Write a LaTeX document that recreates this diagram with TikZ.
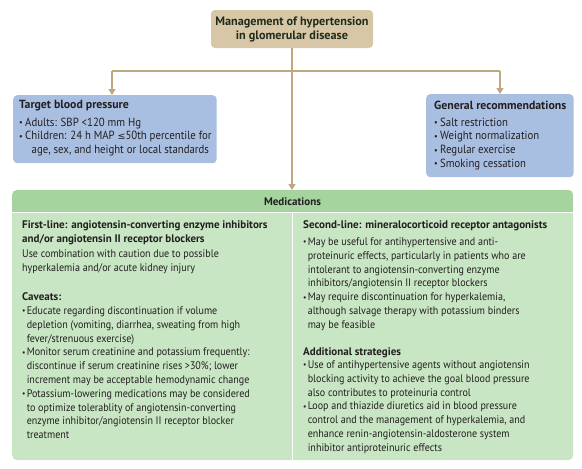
\documentclass[tikz,border=0pt]{standalone}
\usepackage{fontspec}
\usepackage{graphicx}
\setmainfont{PT Sans}[UprightFeatures={FakeStretch=0.915},BoldFeatures={FakeStretch=1.0}]
\newfontfamily\symfont{DejaVu Sans}
\usetikzlibrary{arrows.meta}
\definecolor{tanfill}{HTML}{D8C7A6}
\definecolor{tanline}{HTML}{BFA77F}
\definecolor{bluefill}{HTML}{A9BFE2}
\definecolor{hdrgreen}{HTML}{A5D49E}
\definecolor{bodygreen}{HTML}{C8E6C3}
\definecolor{textc}{HTML}{231F20}
\definecolor{titlec}{HTML}{1F2B1C}
\newcommand\bu{\makebox[4.6pt][l]{\raisebox{0.1ex}{\scalebox{0.75}{•}}}}
\newcommand\ct{\hspace*{4.6pt}}
\newcommand\bub{\makebox[6pt][l]{\raisebox{0.1ex}{\scalebox{0.75}{•}}}}
\newcommand\leqsym{{\symfont\scalebox{0.8}{≤}}}
\begin{document}
\begin{tikzpicture}[x=1pt,y=-1pt,
  txt/.style={font=\fontsize{11}{13.8}\selectfont, align=left, inner sep=0pt, anchor=north west, text=textc},
  btxt/.style={txt, font=\fontsize{11}{13.8}\selectfont\bfseries},
  boxtxt/.style={txt, font=\fontsize{11.8}{13.8}\selectfont},
  boxbtxt/.style={txt, font=\fontsize{11.8}{13.8}\selectfont\bfseries},
  conn/.style={draw=tanline, line width=1.4pt},
  arr/.style={conn, -{Triangle[width=7pt,length=6pt]}},
  boxbase/.style={inner sep=0pt, rounded corners=4pt, anchor=north west}
]
\useasboundingbox (0,0) rectangle (582,469);

% top box
\node[boxbase, fill=tanfill, minimum width=162pt, minimum height=38pt, anchor=center] (top) at (292,29) {};
\node[txt, anchor=center, align=center, text=titlec, font=\fontsize{12.2}{14}\selectfont\bfseries] (toptxt) at (top.center) {Management of hypertension\\in glomerular disease};

% target blood pressure
\node[boxbase, fill=bluefill, minimum width=203.5pt, minimum height=68pt] (tbp) at (13,95) {};
\node[boxbtxt] (tbpt) at (19,100.5) {Target blood pressure};
\node[boxtxt] (tbpb) at (19,117.5) {\bub Adults: SBP <120 mm Hg\\\bub Children: 24 h MAP \leqsym50th percentile for\\\hspace*{12.5pt}age, sex, and height or local standards};

% general recommendations
\node[boxbase, fill=bluefill, minimum width=147.5pt, minimum height=83pt] (gen) at (426,94) {};
\node[boxbtxt] (gent) at (434,100.5) {General recommendations};
\node[boxtxt] (genb) at (434,117.5) {\bub Salt restriction\\\bub Weight normalization\\\bub Regular exercise\\\bub Smoking cessation};

% connectors
\coordinate (brl) at (112,71);
\coordinate (brr) at (500,71);
\draw[conn] (brl) -- (brr);
\draw[arr] (brl) -- (brl |- tbp.north);
\draw[arr] (brr) -- (brr |- gen.north);

% medications
\node[boxbase, fill=bodygreen, minimum width=561pt, minimum height=270pt, rounded corners=5pt] (med) at (12,190) {};
\begin{scope}
  \clip[rounded corners=5pt] (med.north west) rectangle (med.south east);
  \fill[hdrgreen] (med.north west) rectangle (573,212);
\end{scope}
\draw[white, line width=1pt] (12,212) -- (573,212);
\draw[white, line width=1pt] (292,212) -- (292,460);
\draw[arr] (top.south) -- (top.south |- med.north);
\node[btxt, anchor=center] (medh) at (292.5,201.5) {Medications};

% left column
\node[btxt] (l1) at (22,220.5) {First-line: angiotensin-converting enzyme inhibitors\\and/or angiotensin II receptor blockers};
\node[txt] (l2) at (22,249.5) {Use combination with caution due to possible\\hyperkalemia and/or acute kidney injury};
\node[btxt] (l3) at (22,292.5) {Caveats:};
\node[txt] (l4) at (22,306.5) {\bu Educate regarding discontinuation if volume\\\ct depletion (vomiting, diarrhea, sweating from high\\\ct fever/strenuous exercise)\\\bu Monitor serum creatinine and potassium frequently:\\\ct discontinue if serum creatinine rises >30\%; lower\\\ct increment may be acceptable hemodynamic change\\\bu Potassium-lowering medications may be considered\\\ct to optimize tolerablity of angiotensin-converting\\\ct enzyme inhibitor/angiotensin II receptor blocker\\\ct treatment};

% right column
\node[btxt] (r1) at (303,220.5) {Second-line: mineralocorticoid receptor antagonists};
\node[txt] (r2) at (303,237.5) {\bu May be useful for antihypertensive and anti-\\\ct proteinuric effects, particularly in patients who are\\\ct intolerant to angiotensin-converting enzyme\\\ct inhibitors/angiotensin II receptor blockers\\\bu May require discontinuation for hyperkalemia,\\\ct although salvage therapy with potassium binders\\\ct may be feasible};
\node[btxt] (r3) at (303,347.5) {Additional strategies};
\node[txt] (r4) at (303,360.5) {\bu Use of antihypertensive agents without angiotensin\\\ct blocking activity to achieve the goal blood pressure\\\ct also contributes to proteinuria control\\\bu Loop and thiazide diuretics aid in blood pressure\\\ct control and the management of hyperkalemia, and\\\ct enhance renin-angiotensin-aldosterone system\\\ct inhibitor antiproteinuric effects};
\end{tikzpicture}
\end{document}
